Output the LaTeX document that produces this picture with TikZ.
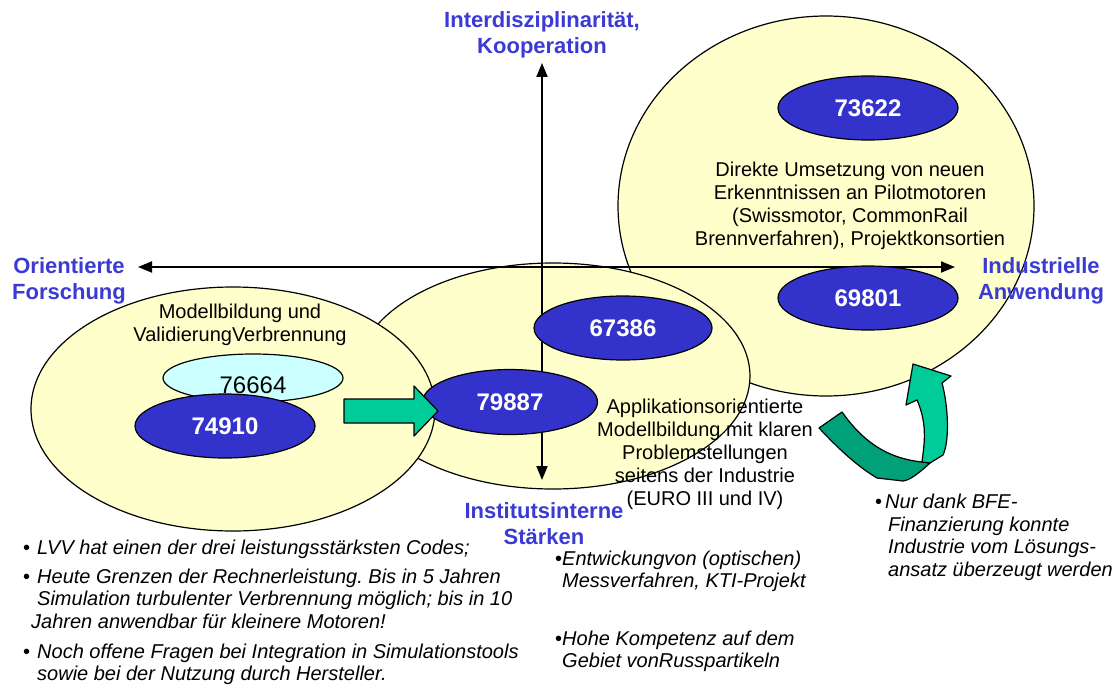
\documentclass[tikz,border=0pt]{standalone}
\usepackage{fontspec}
\setmainfont{Liberation Sans}
\frenchspacing
\usetikzlibrary{shapes.geometric,arrows.meta}
\definecolor{ylw}{RGB}{255,255,204}
\definecolor{dblue}{RGB}{51,51,204}
\definecolor{lcyan}{RGB}{204,255,255}
\definecolor{lgreen}{RGB}{0,204,153}
\definecolor{dgreen}{RGB}{0,160,120}
\definecolor{lblue}{RGB}{59,59,212}
\begin{document}
\begin{tikzpicture}[x=1pt,y=-1pt,
  bigell/.style={ellipse, draw, line width=1.2pt, fill=ylw, inner sep=0},
  numell/.style={ellipse, draw, line width=1.2pt, fill=dblue, inner sep=0, text=white, font=\fontsize{24}{28}\selectfont\bfseries},
  axis/.style={line width=2pt, {Triangle[length=14pt,width=11pt]}-{Triangle[length=14pt,width=11pt]}},
  lbl/.style={text=lblue, font=\fontsize{22}{26}\selectfont\bfseries, align=center, inner sep=0},
  body/.style={font=\fontsize{20}{23}\selectfont, align=center, inner sep=0},
  bul/.style={font=\fontsize{20}{23}\selectfont\itshape, anchor=base west, inner sep=0},
  garrow/.style={draw, line width=1.2pt, line join=round}
]
\useasboundingbox (0,0) rectangle (1115,690);

% big ellipses
\node[bigell, minimum width=416pt, minimum height=380pt] (rc) at (826,206) {};
\node[bigell, minimum width=394pt, minimum height=226pt] (me) at (553,376) {};
\node[bigell, minimum width=404pt, minimum height=244pt] (le) at (233,409) {};

% axes
\coordinate (top) at (542,63);
\coordinate (bot) at (542,480);
\coordinate (lft) at (138,267);
\coordinate (rgt) at (955,267);
\draw[axis] (bot) -- (top);
\draw[axis] (lft) -- (rgt);

% number ellipses
\node[numell, minimum width=180pt, minimum height=64pt] (n73622) at (868,108) {73622};
\node[numell, minimum width=180pt, minimum height=64pt] (n69801) at (868,298) {69801};
\node[numell, minimum width=178pt, minimum height=64pt] (n67386) at (623,328) {67386};
\node[numell, minimum width=175pt, minimum height=65pt] (n79887) at (510,402) {79887};
\node[ellipse, draw, line width=1.2pt, fill=lcyan, inner sep=0, minimum width=180pt, minimum height=48pt] (n76664) at (253,378) {};
\node[inner sep=0, font=\fontsize{24}{28}\selectfont] (t76664) at (253,385) {76664};
\node[numell, minimum width=180pt, minimum height=64pt] (n74910) at (225,426) {74910};

% body texts
\node[body] (tR) at (850,206) {Direkte Umsetzung von neuen\\Erkenntnissen an Pilotmotoren\\(Swissmotor, CommonRail\\Brennverfahren), Projektkonsortien};
\node[body] (tL) at (240,325) {Modellbildung und\\ValidierungVerbrennung};
\node[body] (tM) at (705,454) {Applikationsorientierte\\Modellbildung mit klaren\\Problemstellungen\\seitens der Industrie\\(EURO III und IV)};

% axis labels
\node[lbl] (ltop) at (542,35) {Interdisziplinarität,\\Kooperation};
\node[lbl] (llft) at (69,281) {Orientierte\\Forschung};
\node[lbl] (lrgt) at (1041,281) {Industrielle\\Anwendung};
\node[lbl] (lbot) at (544,524) {Institutsinterne\\Stärken};

% straight block arrow
\draw[garrow, fill=lgreen] (344,399) -- (414,399) -- (414,386) -- (438,411) -- (414,436) -- (414,423) -- (344,423) -- cycle;

% curved arrow
\draw[garrow, fill=dgreen] (819,428) -- (842,412) .. controls (862,440) and (885,458) .. (922,462) -- (930,463) .. controls (918,474) and (910,480) .. (903,481) -- (877,478) .. controls (855,465) and (835,445) .. (819,428) -- cycle;
\draw[garrow, fill=lgreen] (922,462) .. controls (924,445) and (928,425) .. (917,400) -- (906,405) -- (913,364) -- (951,376) -- (942,383) .. controls (948,405) and (950,440) .. (943,455) -- (930,463) -- cycle;

% bottom left bullets
\node[bul] (bl1) at (23,554) {\upshape•};
\node[bul] (l1) at (37,554) {LVV hat einen der drei leistungsstärksten Codes;};
\node[bul] (bl2) at (23,583) {\upshape•};
\node[bul] (l2a) at (37,583) {Heute Grenzen der Rechnerleistung. Bis in 5 Jahren};
\node[bul] (l2b) at (37,605) {Simulation turbulenter Verbrennung möglich; bis in 10};
\node[bul] (l2c) at (31,628) {Jahren anwendbar für kleinere Motoren!};
\node[bul] (bl3) at (23,658) {\upshape•};
\node[bul] (l3a) at (37,658) {Noch offene Fragen bei Integration in Simulationstools};
\node[bul] (l3b) at (37,680) {sowie bei der Nutzung durch Hersteller.};

% bottom middle bullets
\node[bul] (bm1) at (555,565) {\upshape•};
\node[bul] (m1a) at (562,565) {Entwickungvon (optischen)};
\node[bul] (m1b) at (562,587) {Messverfahren, KTI-Projekt};
\node[bul] (bm2) at (555,645) {\upshape•};
\node[bul] (m2a) at (562,645) {Hohe Kompetenz auf dem};
\node[bul] (m2b) at (562,667) {Gebiet vonRusspartikeln};

% bottom right bullets
\node[bul] (br1) at (875,508) {\upshape•};
\node[bul] (r1a) at (885,508) {Nur dank BFE-};
\node[bul] (r1b) at (888,531) {Finanzierung konnte};
\node[bul] (r1c) at (888,553) {Industrie vom Lösungs-};
\node[bul] (r1d) at (888,576) {ansatz überzeugt werden};
\end{tikzpicture}
\end{document}
